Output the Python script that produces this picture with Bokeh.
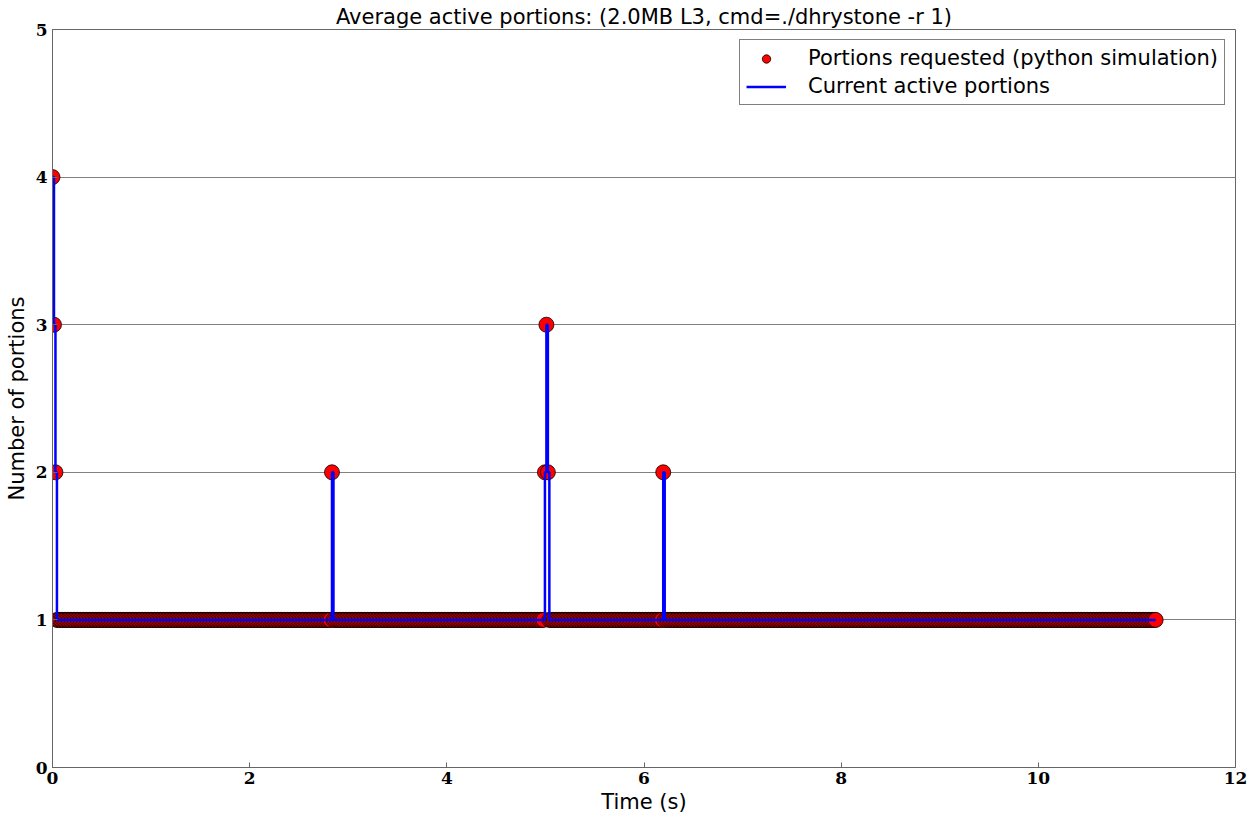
import numpy as np
from bokeh.plotting import figure
from bokeh.models import Range1d, Legend, LegendItem, FixedTicker
from bokeh.embed import file_html
from bokeh.resources import INLINE

title_text = "Average active portions: (2.0MB L3, cmd=./dhrystone -r 1)"
x_label = "Time (s)"
y_label = "Number of portions"
series_requested = "Portions requested (python simulation)"
series_active = "Current active portions"

# sampling of the simulation (seconds)
sample_interval = 0.015
last_sample = 11.19
baseline_portions = 1
# samples where more than the baseline number of portions was active
spike_times = [0.000, 0.015, 0.030, 2.835, 4.995, 5.010, 5.025, 6.195]
spike_portions = [4, 3, 2, 2, 2, 3, 2, 2]

x_ticks = [0, 2, 4, 6, 8, 10, 12]
y_ticks = [0, 1, 2, 3, 4, 5]

sample_times = np.round(np.arange(0, last_sample + 1e-9, sample_interval), 3)
portions = np.full(len(sample_times), baseline_portions)
for t, v in zip(spike_times, spike_portions):
    portions[int(np.argmin(np.abs(sample_times - t)))] = v

p = figure(width=1256, height=820, output_backend="svg", toolbar_location=None,
           x_range=Range1d(0, 12), y_range=Range1d(0, 5),
           min_border_left=52, min_border_right=21, min_border_top=29, min_border_bottom=53)

p.title.text = title_text
p.title.align = "center"
p.title.text_font = "DejaVu Sans"
p.title.text_font_style = "normal"
p.title.text_font_size = "21px"
p.title.text_color = "black"
p.title.standoff = 2
p.title.offset = 0

p.background_fill_color = "white"
p.border_fill_color = "white"
p.outline_line_color = "#666666"
p.outline_line_width = 1

for ax in (p.xaxis[0], p.yaxis[0]):
    ax.major_label_text_font = "DejaVu Serif"
    ax.major_label_text_font_style = "bold"
    ax.major_label_text_font_size = "17px"
    ax.major_label_text_color = "black"
    ax.axis_label_text_font = "DejaVu Sans"
    ax.axis_label_text_font_style = "normal"
    ax.axis_label_text_font_size = "21px"
    ax.axis_label_text_color = "black"
    ax.axis_line_color = "#666666"
    ax.major_tick_line_color = "#666666"
    ax.major_tick_in = 5
    ax.major_tick_out = 0
    ax.minor_tick_line_color = None

p.xaxis[0].ticker = FixedTicker(ticks=x_ticks)
p.yaxis[0].ticker = FixedTicker(ticks=y_ticks)
p.xaxis[0].axis_label = x_label
p.yaxis[0].axis_label = y_label
p.xaxis[0].major_label_standoff = 4
p.xaxis[0].axis_label_standoff = 3
p.yaxis[0].major_label_standoff = 5
p.yaxis[0].axis_label_standoff = 4

p.xgrid.visible = False
p.ygrid.grid_line_color = "#808080"
p.ygrid.grid_line_width = 1

r_pts = p.scatter(sample_times, portions, size=15, fill_color="red",
                  line_color="black", line_width=0.8)
r_line = p.step(sample_times, portions, mode="after", line_color="blue", line_width=2.5)

legend = Legend(items=[LegendItem(label=series_requested, renderers=[r_pts]),
                       LegendItem(label=series_active, renderers=[r_line])],
                location="top_right")
legend.margin = 10
legend.label_text_font = "DejaVu Sans"
legend.label_text_font_size = "21px"
legend.label_text_color = "black"
legend.border_line_color = "black"
legend.border_line_width = 1
legend.background_fill_alpha = 1
legend.glyph_width = 40
legend.glyph_height = 21
legend.label_standoff = 22
legend.padding = 6
legend.spacing = 4
legend.label_height = 21
p.add_layout(legend, "center")

open("out.html", "w").write(file_html(p, INLINE))
